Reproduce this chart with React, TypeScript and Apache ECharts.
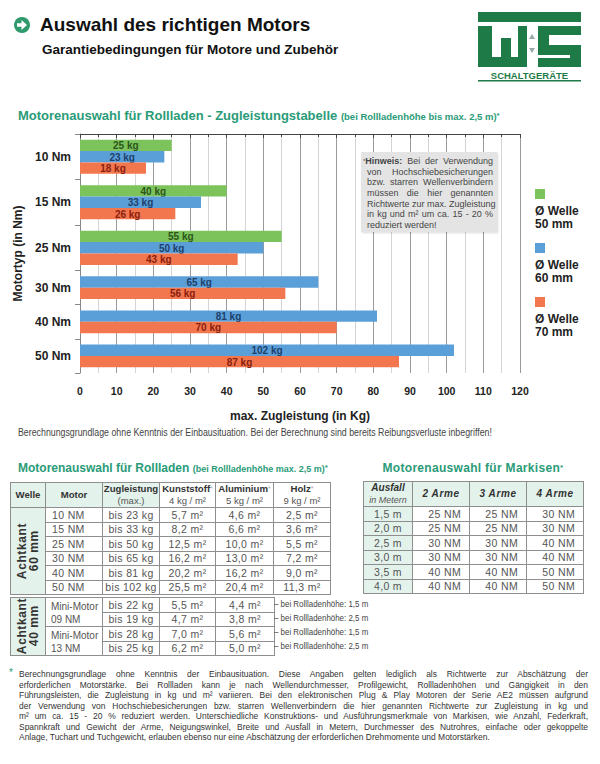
import React, { useEffect, useRef } from 'react';
import * as echarts from 'echarts';

// ---------- data ----------
const categories = ['10 Nm', '15 Nm', '25 Nm', '30 Nm', '40 Nm', '50 Nm'];
const welle50: (number | null)[] = [25, 40, 55, null, null, null];
const welle60: (number | null)[] = [23, 33, 50, 65, 81, 102];
const welle70: (number | null)[] = [18, 26, 43, 56, 70, 87];
const seriesNames = ['Ø Welle 50 mm', 'Ø Welle 60 mm', 'Ø Welle 70 mm'];
const legendLine1 = ['Ø Welle', 'Ø Welle', 'Ø Welle'];
const legendLine2 = ['50 mm', '60 mm', '70 mm'];
const xMin = 0;
const xMax = 120;
const xInterval = 10;

const hintLines = [
  'Bei der Verwendung',
  'von Hochschiebesicherungen',
  'bzw. starren Wellenverbindern',
  'müssen die hier genannten',
  'Richtwerte zur max. Zugleistung',
  'in kg und m² um ca. 15 - 20 %',
  'reduziert werden!',
];

const rollMotors = ['10 NM', '15 NM', '25 NM', '30 NM', '40 NM', '50 NM'];
const rollZug = ['bis 23 kg', 'bis 33 kg', 'bis 50 kg', 'bis 65 kg', 'bis 81 kg', 'bis 102 kg'];
const rollKunst = ['5,7 m²', '8,2 m²', '12,5 m²', '16,2 m²', '20,2 m²', '25,5 m²'];
const rollAlu = ['4,6 m²', '6,6 m²', '10,0 m²', '13,0 m²', '16,2 m²', '20,4 m²'];
const rollHolz = ['2,5 m²', '3,6 m²', '5,5 m²', '7,2 m²', '9,0 m²', '11,3 m²'];

const miniMotors = [['Mini-Motor', '09 NM'], ['Mini-Motor', '13 NM']];
const miniZug = ['bis 22 kg', 'bis 19 kg', 'bis 28 kg', 'bis 25 kg'];
const miniKunst = ['5,5 m²', '4,7 m²', '7,0 m²', '6,2 m²'];
const miniAlu = ['4,4 m²', '3,8 m²', '5,6 m²', '5,0 m²'];
const miniHeights = ['1,5 m', '2,5 m', '1,5 m', '2,5 m'];

const markAusfall = ['1,5 m', '2,0 m', '2,5 m', '3,0 m', '3,5 m', '4,0 m'];
const mark2 = ['25 NM', '25 NM', '30 NM', '30 NM', '40 NM', '40 NM'];
const mark3 = ['25 NM', '25 NM', '30 NM', '30 NM', '40 NM', '40 NM'];
const mark4 = ['30 NM', '30 NM', '40 NM', '40 NM', '50 NM', '50 NM'];

const footLines = [
  'Berechnungsgrundlage ohne Kenntnis der Einbausituation. Diese Angaben gelten lediglich als Richtwerte zur Abschätzung der',
  'erforderlichen  Motorstärke. Bei Rollladen kann je nach Wellendurchmesser, Profilgewicht, Rollladenhöhen und Gängigkeit in den',
  'Führungsleisten, die Zugleistung in kg und m² variieren. Bei den elektronischen Plug & Play Motoren der Serie AE2 müssen aufgrund',
  'der Verwendung von Hochschiebesicherungen bzw. starren Wellenverbindern die hier genannten Richtwerte zur Zugleistung in kg und',
  'm² um ca. 15 - 20 % reduziert werden. Unterschiedliche Konstruktions- und Ausführungsmerkmale von Markisen, wie Anzahl, Federkraft,',
  'Spannkraft und Gewicht der Arme, Neigungswinkel, Breite und Ausfall in Metern, Durchmesser des Nutrohres, einfache oder gekoppelte',
  'Anlage, Tuchart und Tuchgewicht, erlauben ebenso nur eine Abschätzung der erforderlichen Drehmomente und Motorstärken.',
];

// ---------- styles ----------
const FONT = "'Liberation Sans', Arial, Helvetica, sans-serif";
const TEAL = '#2a9b78';
const MINT = '#e3f2eb';
const BORDER = '#8e8e8e';
const barColors = ['#7cc35c', '#5b9fd9', '#f2774f'];
const labelColors = ['#2b5519', '#1d3f6c', '#8a200e'];
const LOGO = '#1e7a47';
const NARROW = 0.88;

const App: React.FC = () => {
  const ref = useRef<HTMLDivElement | null>(null);

  useEffect(() => {
    if (!ref.current) return;
    const chart = echarts.init(ref.current, null, { renderer: 'svg' });

    const allSeries = [welle50, welle60, welle70];
    const counts = categories.map((_, i) => allSeries.filter((s) => s[i] != null).length);
    const starts: number[] = [];
    let acc = 0;
    counts.forEach((c) => {
      starts.push(acc);
      acc += c + 1;
    });
    const total = acc;
    const centers = starts.map((s, i) => s + (counts[i] + 1) / 2);
    const bounds = [...starts, total];

    const customSeries = allSeries.map((arr, k) => {
      const data: number[][] = [];
      arr.forEach((v, i) => {
        if (v == null) return;
        let idx = 0;
        for (let j = 0; j < k; j++) if (allSeries[j][i] != null) idx++;
        data.push([v, starts[i] + 0.5 + idx]);
      });
      return {
        type: 'custom',
        name: seriesNames[k],
        encode: { x: 0, y: 1 },
        data,
        renderItem: (params: any, api: any) => {
          const v = api.value(0);
          const y = api.value(1);
          const a = api.coord([0, y]);
          const b = api.coord([v, y + 1]);
          const top = Math.min(a[1], b[1]);
          const h = Math.abs(b[1] - a[1]);
          return {
            type: 'group',
            children: [
              {
                type: 'rect',
                shape: { x: a[0], y: top, width: b[0] - a[0], height: h },
                style: { fill: barColors[k] },
              },
              {
                type: 'text',
                x: (a[0] + b[0]) / 2,
                y: top + h / 2 + 0.5,
                style: {
                  text: v + ' kg',
                  fill: labelColors[k],
                  font: `bold 10px ${FONT}`,
                  align: 'center',
                  verticalAlign: 'middle',
                  textAlign: 'center',
                  textVerticalAlign: 'middle',
                },
              },
            ],
          };
        },
      };
    });

    const legendGraphics: any[] = [];
    seriesNames.forEach((_, k) => {
      const y0 = 189 + k * 54;
      legendGraphics.push({
        type: 'rect',
        shape: { x: 535, y: y0, width: 10, height: 10 },
        style: { fill: barColors[k] },
      });
      legendGraphics.push({
        type: 'text',
        x: 535,
        y: y0 + 15,
        style: {
          text: legendLine1[k] + '\n' + legendLine2[k],
          fill: '#222',
          font: `bold 12px ${FONT}`,
          lineHeight: 13,
        },
      });
    });

    const logoRects = [
      [478, 12, 103, 10],
      [478, 26, 14, 41],
      [478, 57, 49, 10],
      [501, 38, 10, 29],
      [518, 26, 9, 41],
      [538, 26, 43, 9],
      [538, 26, 11, 29],
      [538, 45, 43, 10],
      [570, 45, 11, 22],
      [538, 58, 43, 9],
    ];
    const logoGraphics: any[] = logoRects.map((r) => ({
      type: 'rect',
      shape: { x: r[0], y: r[1], width: r[2], height: r[3] },
      style: { fill: LOGO },
    }));
    logoGraphics.push({
      type: 'polygon',
      shape: { points: [[529, 39], [535, 39], [532, 34]] },
      style: { fill: '#9aa' },
    });
    logoGraphics.push({
      type: 'polygon',
      shape: { points: [[529, 48], [535, 48], [532, 53]] },
      style: { fill: '#9aa' },
    });
    logoGraphics.push({
      type: 'text',
      x: 529.5,
      y: 75,
      style: {
        text: 'SCHALTGERÄTE',
        fill: LOGO,
        font: `bold 9.5px ${FONT}`,
        align: 'center',
        verticalAlign: 'middle',
        textAlign: 'center',
        textVerticalAlign: 'middle',
      },
    });
    logoGraphics.push({
      type: 'rect',
      shape: { x: 478, y: 80, width: 103, height: 1.5 },
      style: { fill: LOGO },
    });

    const iconGraphics: any[] = [
      { type: 'circle', shape: { cx: 22, cy: 25, r: 8 }, style: { fill: '#2f9a6b' } },
      {
        type: 'polygon',
        shape: { points: [[17, 23.3], [21.5, 23.3], [21.5, 20], [27, 25], [21.5, 30], [21.5, 26.7], [17, 26.7]] },
        style: { fill: '#fff' },
      },
    ];

    chart.setOption({
      animation: false,
      textStyle: { fontFamily: FONT },
      grid: { left: 80, top: 134, width: 440, height: 239, containLabel: false },
      xAxis: {
        type: 'value',
        min: xMin,
        max: xMax,
        interval: xInterval,
        name: 'max. Zugleistung (in Kg)',
        nameLocation: 'middle',
        nameGap: 37,
        nameTextStyle: { fontWeight: 'bold', fontSize: 12, color: '#222', fontFamily: FONT },
        axisLine: { show: true, lineStyle: { color: '#444', width: 1 } },
        axisTick: { show: true, length: 4, lineStyle: { color: '#444' } },
        minorTick: { show: true, splitNumber: 2, length: 3, lineStyle: { color: '#444' } },
        splitLine: { show: true, lineStyle: { color: '#9a9a9a', width: 1 } },
        minorSplitLine: { show: true, lineStyle: { color: '#d4d4d4', width: 1 } },
        axisLabel: { fontWeight: 'bold', fontSize: 10.5, color: '#222', margin: 12, fontFamily: FONT },
      },
      yAxis: {
        type: 'value',
        min: 0,
        max: total,
        inverse: true,
        name: 'Motortyp (in Nm)',
        nameLocation: 'middle',
        nameRotate: 90,
        nameGap: 52,
        nameTextStyle: { fontWeight: 'bold', fontSize: 12, color: '#222', fontFamily: FONT },
        splitLine: { show: false },
        axisLine: { show: true, lineStyle: { color: '#888' } },
        axisTick: { show: true, customValues: bounds, length: 5, lineStyle: { color: '#888' } },
        axisLabel: {
          customValues: centers,
          margin: 9,
          fontWeight: 'bold',
          fontSize: 12,
          color: '#222',
          fontFamily: FONT,
          formatter: (v: number) => {
            const i = centers.findIndex((c) => Math.abs(c - v) < 1e-6);
            return i >= 0 ? categories[i] : '';
          },
        },
      },
      series: customSeries,
      graphic: [...legendGraphics, ...logoGraphics, ...iconGraphics],
    });

    return () => {
      chart.dispose();
    };
  }, []);

  const cellBase: React.CSSProperties = {
    border: `1px solid ${BORDER}`,
    padding: 0,
    color: '#555',
    fontSize: 10.5,
    letterSpacing: 0.35,
    textAlign: 'center',
    lineHeight: '12px',
    fontFamily: FONT,
    whiteSpace: 'nowrap',
    overflow: 'hidden',
  };
  const head: React.CSSProperties = {
    ...cellBase,
    background: MINT,
    color: '#333',
    fontWeight: 'bold',
    fontSize: 9.6,
    letterSpacing: 0,
  };
  const sub: React.CSSProperties = { fontWeight: 'normal', fontSize: 9.5, color: '#555' };
  const star = <span style={{ color: '#aaa', fontSize: 7, verticalAlign: 'top', fontWeight: 'normal' }}>*</span>;
  const rotated = (a: string, b: string) => (
    <div
      style={{
        writingMode: 'vertical-rl',
        transform: 'rotate(180deg)',
        margin: '0 auto',
        fontWeight: 'bold',
        fontSize: 12,
        color: '#333',
        lineHeight: '12px',
        letterSpacing: 0.6,
        textAlign: 'center',
        fontFamily: FONT,
      }}
    >
      {a}
      <br />
      {b}
    </div>
  );
  const justLine = (t: string, last: boolean, key: number, lh: number): React.ReactNode => (
    <div
      key={key}
      style={{
        textAlign: last ? 'left' : 'justify',
        textAlignLast: last ? 'left' : 'justify',
        whiteSpace: 'nowrap',
        height: lh,
        lineHeight: lh + 'px',
      }}
    >
      {t}
    </div>
  );

  return (
    <div style={{ position: 'absolute', left: 0, top: 0, width: 600, height: 764, background: '#fff', fontFamily: FONT, overflow: 'hidden' }}>
      <div ref={ref} style={{ position: 'absolute', left: 0, top: 0, width: 600, height: 764 }} />

      {/* header */}
      <div style={{ position: 'absolute', left: 40, top: 13, fontSize: 19, fontWeight: 'bold', color: '#111', lineHeight: '24px', whiteSpace: 'nowrap' }}>
        Auswahl des richtigen Motors
      </div>
      <div style={{ position: 'absolute', left: 42, top: 41, fontSize: 13.5, fontWeight: 'bold', color: '#111', lineHeight: '18px', whiteSpace: 'nowrap' }}>
        Garantiebedingungen für Motore und Zubehör
      </div>

      {/* chart title */}
      <div style={{ position: 'absolute', left: 18, top: 108, color: TEAL, fontWeight: 'bold', fontSize: 13, lineHeight: '16px', whiteSpace: 'nowrap' }}>
        Motorenauswahl für Rollladen - Zugleistungstabelle <span style={{ fontSize: 9.5 }}>(bei Rollladenhöhe bis max. 2,5 m)</span>
        <span style={{ fontSize: 8, verticalAlign: 'top' }}>*</span>
      </div>

      {/* hint box */}
      <div
        style={{
          position: 'absolute',
          left: 361,
          top: 152,
          width: 126,
          height: 76,
          padding: '4px 4px 0 6px',
          background: '#e4e4e4',
          boxShadow: '1px 1px 2px rgba(0,0,0,0.15)',
          fontSize: 9,
          color: '#444',
        }}
      >
        <div style={{ textAlign: 'justify', textAlignLast: 'justify', whiteSpace: 'nowrap', height: 10.7, lineHeight: '10.7px' }}>
          <span style={{ fontSize: 6, verticalAlign: 'top', marginLeft: -4 }}>*</span>
          <b>Hinweis:</b> {hintLines[0]}
        </div>
        {hintLines.slice(1).map((t, i) => justLine(t, i === hintLines.length - 2, i, 10.7))}
      </div>

      {/* note below chart */}
      <div
        style={{
          position: 'absolute',
          left: 18,
          top: 427,
          fontSize: 10,
          color: '#444',
          lineHeight: '12px',
          whiteSpace: 'nowrap',
          transform: `scaleX(${NARROW})`,
          transformOrigin: '0 0',
        }}
      >
        Berechnungsgrundlage ohne Kenntnis der Einbausituation. Bei der Berechnung sind bereits Reibungsverluste inbegriffen!
      </div>

      {/* left table title */}
      <div style={{ position: 'absolute', left: 18, top: 460, color: TEAL, fontWeight: 'bold', fontSize: 12, lineHeight: '16px', whiteSpace: 'nowrap' }}>
        Motorenauswahl für Rollladen <span style={{ fontSize: 9 }}>(bei Rollladenhöhe max. 2,5 m)</span>
        <span style={{ fontSize: 8, verticalAlign: 'top' }}>*</span>
      </div>

      {/* table 1 */}
      <table style={{ position: 'absolute', left: 10, top: 482, width: 320, borderCollapse: 'collapse', tableLayout: 'fixed' }}>
        <colgroup>
          <col style={{ width: 35 }} />
          <col style={{ width: 57 }} />
          <col style={{ width: 57 }} />
          <col style={{ width: 56 }} />
          <col style={{ width: 58 }} />
          <col style={{ width: 57 }} />
        </colgroup>
        <tbody>
          <tr style={{ height: 24 }}>
            <td style={head}>Welle</td>
            <td style={head}>Motor</td>
            <td style={head}>
              Zugleistung
              <br />
              <span style={sub}>(max.)</span>
            </td>
            <td style={{ ...head, background: '#fff' }}>
              Kunststoff{star}
              <br />
              <span style={sub}>4 kg / m²</span>
            </td>
            <td style={{ ...head, background: '#fff' }}>
              Aluminium{star}
              <br />
              <span style={sub}>5 kg / m²</span>
            </td>
            <td style={{ ...head, background: '#fff' }}>
              Holz{star}
              <br />
              <span style={sub}>9 kg / m²</span>
            </td>
          </tr>
          {rollMotors.map((m, i) => (
            <tr key={i} style={{ height: 14.5 }}>
              {i === 0 && (
                <td rowSpan={rollMotors.length} style={{ ...cellBase, background: MINT }}>
                  {rotated('Achtkant', '60 mm')}
                </td>
              )}
              <td style={{ ...cellBase, textAlign: 'left', paddingLeft: 6 }}>{m}</td>
              <td style={cellBase}>{rollZug[i]}</td>
              <td style={cellBase}>{rollKunst[i]}</td>
              <td style={cellBase}>{rollAlu[i]}</td>
              <td style={cellBase}>{rollHolz[i]}</td>
            </tr>
          ))}
        </tbody>
      </table>

      {/* table 2 */}
      <table style={{ position: 'absolute', left: 10, top: 597, width: 264, borderCollapse: 'collapse', tableLayout: 'fixed' }}>
        <colgroup>
          <col style={{ width: 35 }} />
          <col style={{ width: 57 }} />
          <col style={{ width: 57 }} />
          <col style={{ width: 56 }} />
          <col style={{ width: 59 }} />
        </colgroup>
        <tbody>
          {miniZug.map((z, i) => (
            <tr key={i} style={{ height: 14 }}>
              {i === 0 && (
                <td rowSpan={miniZug.length} style={{ ...cellBase, background: MINT }}>
                  {rotated('Achtkant', '40 mm')}
                </td>
              )}
              {i % 2 === 0 && (
                <td
                  rowSpan={2}
                  style={{ ...cellBase, textAlign: 'left', paddingLeft: 5, fontSize: 10, letterSpacing: 0, verticalAlign: 'top', paddingTop: 3, lineHeight: '12.5px' }}
                >
                  {miniMotors[i / 2][0]}
                  <br />
                  {miniMotors[i / 2][1]}
                </td>
              )}
              <td style={cellBase}>{z}</td>
              <td style={cellBase}>{miniKunst[i]}</td>
              <td style={cellBase}>{miniAlu[i]}</td>
            </tr>
          ))}
        </tbody>
      </table>
      {miniHeights.map((h, i) => (
        <div
          key={i}
          style={{
            position: 'absolute',
            left: 274,
            top: 597 + i * 14,
            height: 14,
            lineHeight: '14px',
            fontSize: 9,
            color: '#444',
            whiteSpace: 'nowrap',
            transform: `scaleX(${NARROW})`,
            transformOrigin: '0 0',
          }}
        >
          – bei Rollladenhöhe: {h}
        </div>
      ))}

      {/* Markisen */}
      <div style={{ position: 'absolute', left: 363, width: 220, top: 460, textAlign: 'center', color: TEAL, fontWeight: 'bold', fontSize: 12, lineHeight: '16px', letterSpacing: 0.3, whiteSpace: 'nowrap' }}>
        Motorenauswahl für Markisen<span style={{ fontSize: 8, verticalAlign: 'top' }}>*</span>
      </div>
      <table style={{ position: 'absolute', left: 363, top: 481, width: 220, borderCollapse: 'collapse', tableLayout: 'fixed' }}>
        <colgroup>
          <col style={{ width: 49 }} />
          <col style={{ width: 57 }} />
          <col style={{ width: 57 }} />
          <col style={{ width: 57 }} />
        </colgroup>
        <tbody>
          <tr style={{ height: 25 }}>
            <td style={{ ...head, fontStyle: 'italic', fontSize: 10 }}>
              Ausfall
              <br />
              <span style={{ ...sub, fontStyle: 'italic', fontSize: 9 }}>in Metern</span>
            </td>
            <td style={{ ...head, fontStyle: 'italic', fontSize: 10, letterSpacing: 0.6 }}>2 Arme</td>
            <td style={{ ...head, fontStyle: 'italic', fontSize: 10, letterSpacing: 0.6 }}>3 Arme</td>
            <td style={{ ...head, fontStyle: 'italic', fontSize: 10, letterSpacing: 0.6 }}>4 Arme</td>
          </tr>
          {markAusfall.map((a, i) => (
            <tr key={i} style={{ height: 14.5 }}>
              <td style={{ ...cellBase, background: MINT, letterSpacing: 0.3 }}>{a}</td>
              <td style={{ ...cellBase, textAlign: 'right', paddingRight: 8 }}>{mark2[i]}</td>
              <td style={{ ...cellBase, textAlign: 'right', paddingRight: 8 }}>{mark3[i]}</td>
              <td style={{ ...cellBase, textAlign: 'right', paddingRight: 8 }}>{mark4[i]}</td>
            </tr>
          ))}
        </tbody>
      </table>

      {/* footnote */}
      <div style={{ position: 'absolute', left: 9, top: 668, fontSize: 10, color: TEAL, lineHeight: '10px' }}>*</div>
      <div
        style={{
          position: 'absolute',
          left: 19,
          top: 669,
          width: 569 / NARROW,
          fontSize: 9.6,
          color: '#333',
          transform: `scaleX(${NARROW})`,
          transformOrigin: '0 0',
        }}
      >
        {footLines.map((t, i) => justLine(t, i === footLines.length - 1, i, 10.5))}
      </div>
    </div>
  );
};

export default App;
